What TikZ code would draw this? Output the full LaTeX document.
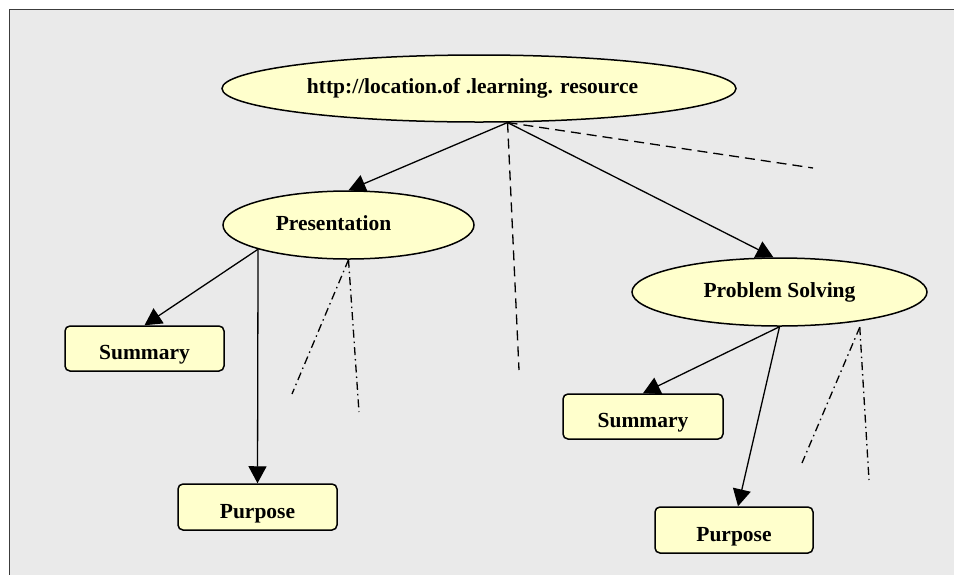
\documentclass[tikz,border=0pt]{standalone}
\usepackage{fontspec}
\setmainfont{Liberation Serif}
\usetikzlibrary{arrows.meta,shapes.geometric}
\definecolor{panel}{RGB}{234,234,234}
\definecolor{bubble}{RGB}{255,255,204}
\definecolor{framegray}{RGB}{60,60,60}

\begin{document}
\begin{tikzpicture}[x=1pt,y=-1pt,
  labelfont/.style={font=\fontsize{21.5}{24}\selectfont\bfseries},
  concept/.style={ellipse, draw=black, line width=1.5pt, fill=bubble,
    inner sep=0pt, labelfont, text height=20pt, text depth=10pt},
  facet/.style={rectangle, rounded corners=5pt, draw=black, line width=1.5pt,
    fill=bubble, inner sep=0pt, minimum width=159pt, minimum height=45pt,
    labelfont, text height=25pt, text depth=3pt},
  link/.style={line width=1.3pt, -{Triangle[length=17pt,width=18pt]}},
  dashlink/.style={line width=1.3pt, dash pattern=on 10pt off 6pt},
  dotlink/.style={line width=1.3pt, dash pattern=on 8pt off 4pt on 1.5pt off 4pt}]

  % canvas and grey panel
  \clip (0,0) rectangle (954,574);
  \fill[white] (0,0) rectangle (954,574);
  \draw[framegray, line width=1.6pt, fill=panel] (9.5,9.5) rectangle (990,600);

  % concept bubbles
  \node[concept, minimum width=514pt, minimum height=67pt] (top) at (479,88.5)
    {http://location.of .learning. resource\hspace*{13pt}};
  \node[concept, minimum width=251pt, minimum height=68pt] (pres) at (348.5,225)
    {Presentation\hspace*{30pt}};
  \node[concept, minimum width=295pt, minimum height=68pt] (ps) at (779.5,292)
    {Problem Solving};

  % facet boxes
  \node[facet] (sum1) at (144.5,348.5) {Summary};
  \node[facet, minimum height=46pt] (pur1) at (257.5,507) {Purpose};
  \node[facet, minimum width=160pt] (sum2) at (643,416.5) {Summary};
  \node[facet, minimum width=158pt, minimum height=46pt] (pur2) at (734,530) {Purpose};

  % loose ends of the open branches
  \coordinate (topdown) at (519,370);
  \coordinate (topright) at (813,168);
  \coordinate (presA) at (292,394);
  \coordinate (presB) at (359,412);
  \coordinate (psA) at (802,463);
  \coordinate (psB) at (869,480);

  % branches from the resource
  \draw[link] (top.-50) -- (pres.north);
  \draw[link] (top.-50) -- (ps.100);
  \draw[dashlink] (top.-50) -- (topdown);
  \draw[dashlink] (top.-50) -- (topright);

  % branches from Presentation
  \draw[link] (pres.195) -- (sum1.north);
  \draw[link] (pres.195) -- (pur1.north);
  \draw[dotlink] (pres.south) -- (presA);
  \draw[dotlink] (pres.south) -- (presB);

  % branches from Problem Solving
  \draw[link] (ps.south) -- (sum2.north);
  \draw[link] (ps.south) -- ([xshift=4pt]pur2.north);
  \draw[dotlink] ([yshift=-6pt]ps.-20) -- (psA);
  \draw[dotlink] ([yshift=-6pt]ps.-20) -- (psB);
\end{tikzpicture}
\end{document}
